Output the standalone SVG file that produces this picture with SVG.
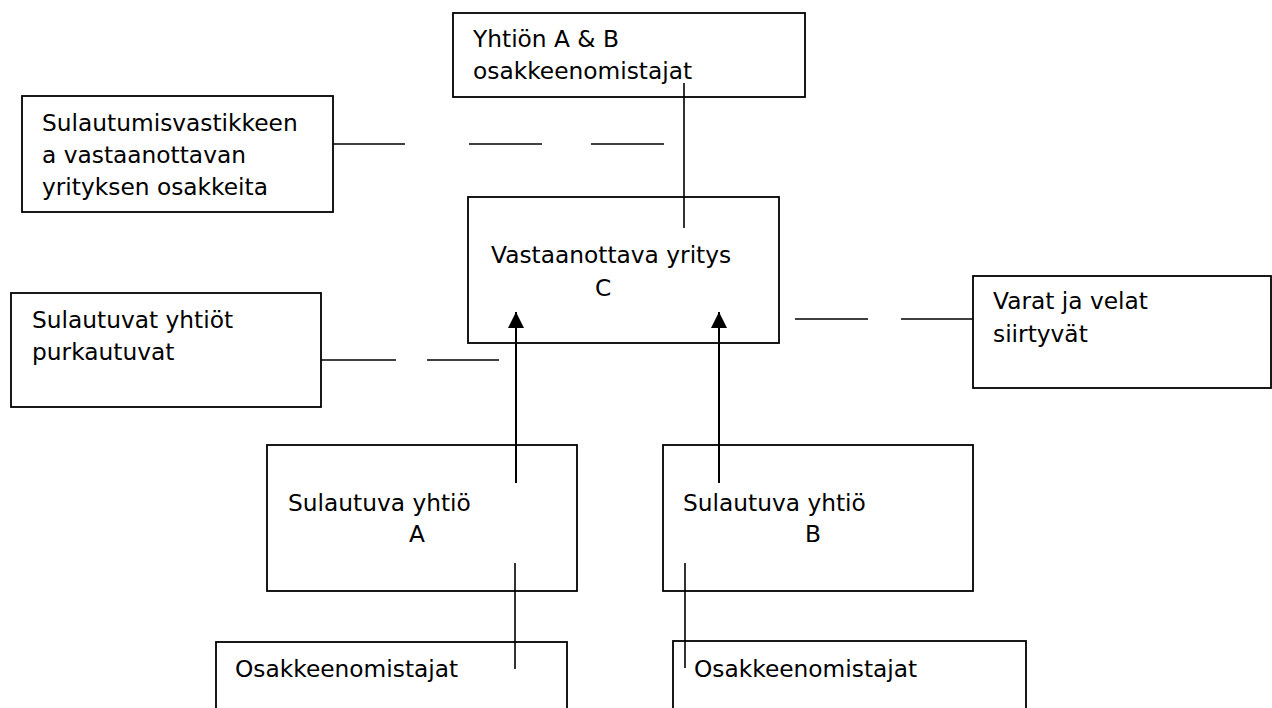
<svg xmlns="http://www.w3.org/2000/svg" width="1272" height="708" viewBox="0 0 1272 708">
<defs>
<style>
.box{fill:#fff;stroke:#000;stroke-width:1.8}
.t{font-family:"DejaVu Sans","Verdana",sans-serif;font-size:23.3px;fill:#000}
.ln{stroke:#000;stroke-width:1.6;fill:none}
.ar{stroke:#000;stroke-width:2;fill:none}
</style>
<marker id="ah" markerUnits="userSpaceOnUse" markerWidth="18" markerHeight="16" viewBox="0 0 18 16" refX="16" refY="8" orient="auto">
<path d="M0,0 L16,8 L0,16 Z" fill="#000"/>
</marker>
</defs>
<rect width="1272" height="708" fill="#fff"/>
<g id="n-top">
<rect class="box" x="453" y="13" width="352" height="84"/>
<text class="t" x="473" y="47">Yhtiön A &amp; B</text>
<text class="t" x="473" y="79">osakkeenomistajat</text>
</g>
<g id="n-vastike">
<rect class="box" x="22" y="96" width="311" height="116"/>
<text class="t" x="42" y="131">Sulautumisvastikkeen</text>
<text class="t" x="42" y="163">a vastaanottavan</text>
<text class="t" x="42" y="195">yrityksen osakkeita</text>
</g>
<g id="n-c">
<rect class="box" x="468" y="197" width="311" height="146"/>
<text class="t" x="491" y="263">Vastaanottava yritys</text>
<text class="t" x="595" y="296">C</text>
</g>
<g id="n-purku">
<rect class="box" x="11" y="293" width="310" height="114"/>
<text class="t" x="32" y="328">Sulautuvat yhtiöt</text>
<text class="t" x="32" y="360">purkautuvat</text>
</g>
<g id="n-varat">
<rect class="box" x="973" y="276" width="298" height="112"/>
<text class="t" x="993" y="309">Varat ja velat</text>
<text class="t" x="993" y="342">siirtyvät</text>
</g>
<g id="n-a">
<rect class="box" x="267" y="445" width="310" height="146"/>
<text class="t" x="288" y="511">Sulautuva yhtiö</text>
<text class="t" x="409" y="542">A</text>
</g>
<g id="n-b">
<rect class="box" x="663" y="445" width="310" height="146"/>
<text class="t" x="683" y="511">Sulautuva yhtiö</text>
<text class="t" x="805" y="542">B</text>
</g>
<g id="n-osa">
<rect class="box" x="216" y="642" width="351" height="80"/>
<text class="t" x="235" y="677">Osakkeenomistajat</text>
</g>
<g id="n-osb">
<rect class="box" x="673" y="641" width="353" height="80"/>
<text class="t" x="694" y="677">Osakkeenomistajat</text>
</g>
<g id="connectors">
<line class="ln" x1="684" y1="83" x2="684" y2="228"/>
<line class="ln" x1="333" y1="144" x2="405" y2="144"/>
<line class="ln" x1="469" y1="144" x2="542" y2="144"/>
<line class="ln" x1="591" y1="144" x2="664" y2="144"/>
<line class="ln" x1="321" y1="360" x2="396" y2="360"/>
<line class="ln" x1="427" y1="360" x2="499" y2="360"/>
<line class="ln" x1="795" y1="319" x2="868" y2="319"/>
<line class="ln" x1="901" y1="319" x2="973" y2="319"/>
<line class="ar" x1="516" y1="483" x2="516" y2="312" marker-end="url(#ah)"/>
<line class="ar" x1="719" y1="483" x2="719" y2="312" marker-end="url(#ah)"/>
<line class="ln" x1="515" y1="563" x2="515" y2="669"/>
<line class="ln" x1="685" y1="563" x2="685" y2="668"/>
</g>
</svg>
